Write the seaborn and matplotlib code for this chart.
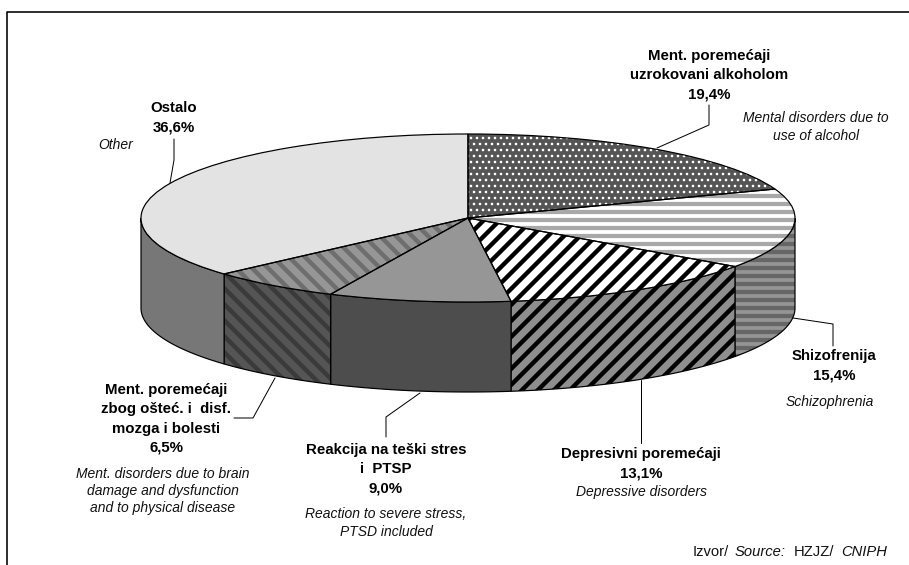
"""
Hospitalizacije zbog mentalnih poremecaja - 3D pita
"""
import matplotlib.pyplot as plt
import numpy as np
import seaborn as sns

W, H = 909, 565
DPI = 144

# Pie geometry in pixels
CX, CY = 468, 218
RX, RY = 327, 84
DEPTH = 90

values = [19.4, 15.4, 13.1, 9.0, 6.5, 36.6]
top_faces = ['#555555', '#ffffff', '#ffffff', '#969696', '#969696', '#e3e3e3']
top_hatches = ['....', '---', '///', None, '\\\\\\', None]
top_hatch_colors = ['#ffffff', '#a8a8a8', '#000000', '#969696', '#6e6e6e', '#e3e3e3']
wall_faces = ['#555555', '#949494', '#8e8e8e', '#4d4d4d', '#555555', '#777777']
wall_hatches = [None, '---', '///', None, '\\\\\\', None]
wall_hatch_colors = ['#555555', '#666666', '#000000', '#4d4d4d', '#3a3a3a', '#777777']
hatch_widths = [0.7, 2.1, 2.2, 2.2, 2.2, 2.2]

bold_labels = [
    ('Ment. poremećaji\nuzrokovani alkoholom\n19,4%', 709, 75),
    ('Shizofrenija\n15,4%', 834, 366),
    ('Depresivni poremećaji\n13,1%', 641, 464),
    ('Reakcija na teški stres\ni  PTSP\n9,0%', 386, 469),
    ('Ment. poremećaji\nzbog ošteć. i  disf.\nmozga i bolesti\n6,5%', 166, 419),
    ('Ostalo\n36,6%', 174, 118),
]
italic_labels = [
    ('Mental disorders due to\nuse of alcohol', 816, 127),
    ('Schizophrenia', 830, 402),
    ('Depressive disorders', 641, 492),
    ('Reaction to severe stress,\nPTSD included', 386, 523),
    ('Ment. disorders due to brain\ndamage and dysfunction\nand to physical disease', 163, 491),
    ('Other', 116, 145),
]
leaders = [
    ([709, 709, 657], [105, 125, 148]),
    ([793, 833, 833], [318, 324, 346]),
    ([641, 641], [380, 443]),
    ([420, 386, 386], [393, 417, 437]),
    ([275, 253, 234], [378, 418, 418]),
    ([174, 174, 170], [139, 160, 183]),
]
source_parts = [
    ('Izvor/', 693, 'normal'),
    ('Source:', 735, 'italic'),
    ('HZJZ/', 794, 'normal'),
    ('CNIPH', 841, 'italic'),
]

sns.set_theme(style='white')
plt.rcParams['font.family'] = ['Liberation Sans', 'DejaVu Sans']
plt.rcParams['hatch.linewidth'] = 2.2


def to_x(px):
    return (np.asarray(px, dtype=float) - CX) / RX


def to_y(py):
    return (CY - np.asarray(py, dtype=float)) / RY


fig = plt.figure(figsize=(W / DPI, (H + 0.01) / DPI), dpi=DPI)
ax = fig.add_axes([0, 0, 1, 1])

# Side walls, only the front half of the cylinder is visible
depth = DEPTH / RY
edges = np.concatenate([[0], np.cumsum(values)]) / np.sum(values) * 2 * np.pi
for i in range(len(values)):
    start = max(edges[i], np.pi / 2)
    end = min(edges[i + 1], 3 * np.pi / 2)
    if end <= start:
        continue
    t = np.linspace(start, end, 120)
    xs = np.concatenate([np.sin(t), np.sin(t[::-1])])
    ys = np.concatenate([np.cos(t), np.cos(t[::-1]) - depth])
    plt.rcParams['hatch.linewidth'] = hatch_widths[i]
    ax.fill(xs, ys, facecolor=wall_faces[i], edgecolor=wall_hatch_colors[i],
            hatch=wall_hatches[i], linewidth=0)
    ax.fill(xs, ys, facecolor='none', edgecolor='black', linewidth=0.6)

# Top surface, hatch first and then a black outline
wedges, _ = ax.pie(values, startangle=90, counterclock=False, radius=1)
for i, wedge in enumerate(wedges):
    wedge.set_facecolor(top_faces[i])
    wedge.set_edgecolor(top_hatch_colors[i])
    wedge.set_linewidth(0)
    wedge.set_hatch(top_hatches[i])
    if hasattr(wedge, 'set_hatch_linewidth'):
        wedge.set_hatch_linewidth(hatch_widths[i])
outlines, _ = ax.pie(values, startangle=90, counterclock=False, radius=1)
for wedge in outlines:
    wedge.set_facecolor('none')
    wedge.set_edgecolor('black')
    wedge.set_linewidth(0.6)

ax.set_aspect('auto')
ax.set_xlim(to_x(0), to_x(W))
ax.set_ylim(to_y(H), to_y(0))
ax.axis('off')

for xs, ys in leaders:
    ax.plot(to_x(xs), to_y(ys), color='black', linewidth=0.5)

# Border, only top and left
ax.plot(to_x([W, 6.5, 6.5]), to_y([12.5, 12.5, H]), color='black', linewidth=0.8)

for text, x, y in bold_labels:
    ax.text(to_x(x), to_y(y), text, ha='center', va='center', fontsize=7.5,
            fontweight='bold', color='black', linespacing=1.48, multialignment='center')
for text, x, y in italic_labels:
    ax.text(to_x(x), to_y(y), text, ha='center', va='center', fontsize=6.95,
            fontstyle='italic', color='#111111', linespacing=1.28, multialignment='center')
for text, x, style in source_parts:
    ax.text(to_x(x), to_y(552), text, ha='left', va='center', fontsize=7.4,
            fontstyle=style, color='#111111')

fig.savefig('out.png', dpi=DPI)
